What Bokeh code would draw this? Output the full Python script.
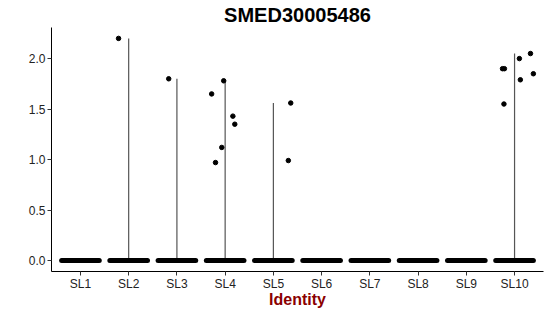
from bokeh.plotting import figure
from bokeh.models import Range1d, FixedTicker, ColumnDataSource
from bokeh.embed import file_html
from bokeh.resources import INLINE

# ---- data ----
categories = ["SL1", "SL2", "SL3", "SL4", "SL5", "SL6", "SL7", "SL8", "SL9", "SL10"]
violin_max = [0.0, 2.20, 1.80, 1.78, 1.56, 0.0, 0.0, 0.0, 0.0, 2.05]

# non-zero cells: identity index (1-based), jitter offset, expression
pt_group = [2, 3, 4, 4, 4, 4, 4, 4, 5, 5, 10, 10, 10, 10, 10, 10, 10]
pt_jitter = [-0.21, -0.17, -0.28, -0.03, 0.16, 0.20, -0.07, -0.20, 0.36, 0.31,
             -0.25, -0.21, -0.22, 0.10, 0.33, 0.12, 0.39]
pt_value = [2.20, 1.80, 1.65, 1.78, 1.43, 1.35, 1.12, 0.97, 1.56, 0.99,
            1.90, 1.90, 1.55, 2.00, 2.05, 1.79, 1.85]

yticks = [0.0, 0.5, 1.0, 1.5, 2.0]

xs = list(range(1, len(categories) + 1))

p = figure(width=550, height=316, output_backend="svg", toolbar_location=None,
           x_range=Range1d(0.4, 10.6), y_range=Range1d(-0.109, 2.308),
           min_border_left=51, min_border_right=7, min_border_bottom=45, min_border_top=0)

p.title.text = "SMED30005486"
p.title.align = "center"
p.title.text_font = "Liberation Sans"
p.title.text_font_size = "20px"
p.title.text_font_style = "bold"
p.title.text_color = "black"
p.title.standoff = 3

p.xgrid.visible = False
p.ygrid.visible = False
p.outline_line_color = None
p.background_fill_color = "white"
p.border_fill_color = "white"

# violins (degenerate, nearly all zero) drawn as thin vertical lines
vx = [x for x, m in zip(xs, violin_max) if m > 0]
vm = [m for m in violin_max if m > 0]
p.segment(x0=vx, y0=[0] * len(vx), x1=vx, y1=vm, line_color="#555555", line_width=1.2)

# dense band of zero-valued cells
p.segment(x0=[x - 0.39 for x in xs], y0=[0] * len(xs), x1=[x + 0.39 for x in xs],
          y1=[0] * len(xs), line_color="black", line_width=5, line_cap="round")

# jittered non-zero cells
src = ColumnDataSource(dict(x=[g + j for g, j in zip(pt_group, pt_jitter)], y=pt_value))
p.scatter("x", "y", source=src, size=4.5, color="black")

# axes
p.xaxis.ticker = FixedTicker(ticks=xs)
p.xaxis.major_label_overrides = {x: c for x, c in zip(xs, categories)}
p.yaxis.ticker = FixedTicker(ticks=yticks)
p.yaxis.major_label_overrides = {v: f"{v:.1f}" for v in yticks}
for ax in (p.xaxis[0], p.yaxis[0]):
    ax.axis_line_color = "black"
    ax.axis_line_width = 1
    ax.major_tick_line_color = "#333333"
    ax.major_tick_in = 0
    ax.major_tick_out = 4
    ax.minor_tick_line_color = None
    ax.major_label_text_font = "Liberation Sans"
    ax.major_label_text_font_size = "12px"
    ax.major_label_text_color = "#222222"
    ax.major_label_standoff = 2

p.xaxis.major_label_standoff = 1
p.xaxis.axis_label = "Identity"
p.xaxis.axis_label_text_font = "Liberation Sans"
p.xaxis.axis_label_text_font_size = "16px"
p.xaxis.axis_label_text_font_style = "bold"
p.xaxis.axis_label_text_color = "#8B0000"
p.xaxis.axis_label_standoff = -3

open("out.html", "w").write(file_html(p, INLINE))
